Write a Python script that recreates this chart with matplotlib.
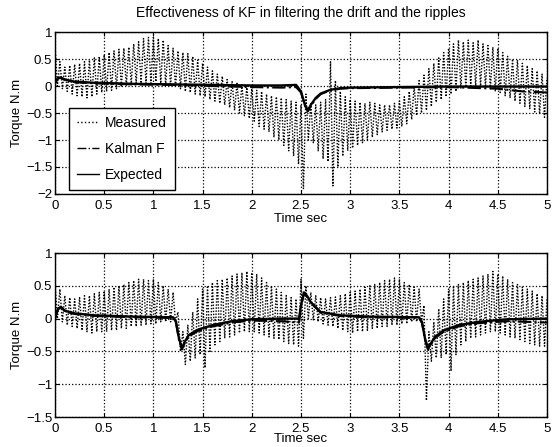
import numpy as np
import matplotlib.pyplot as plt
from matplotlib.lines import Line2D

# envelope of the measured torque (peaks / troughs), every 0.05 s
t_env = np.round(np.arange(0, 5.0001, 0.05), 2)

top_hi = [0.75, 0.45, 0.35, 0.38, 0.40, 0.42, 0.45, 0.48, 0.52, 0.55,
          0.58, 0.62, 0.65, 0.68, 0.70, 0.72, 0.78, 0.82, 0.88, 0.90,
          0.90, 0.88, 0.85, 0.75, 0.70, 0.65, 0.62, 0.60, 0.55, 0.48,
          0.42, 0.35, 0.28, 0.22, 0.18, 0.12, 0.08, 0.05, 0.02, 0.00,
          -0.05, -0.08, -0.10, -0.15, -0.18, -0.20, -0.22, -0.25, -0.28, -0.30,
          -0.35, -0.15, -0.30, -0.35, -0.30, -0.25, 0.45, 0.10, -0.10, -0.20,
          -0.25, -0.28, -0.30, -0.32, -0.30, -0.32, -0.35, -0.35, -0.35, -0.32,
          -0.28, -0.20, -0.10, 0.00, 0.10, 0.20, 0.32, 0.42, 0.52, 0.62,
          0.70, 0.78, 0.85, 0.82, 0.85, 0.80, 0.85, 0.78, 0.75, 0.72,
          0.70, 0.62, 0.55, 0.50, 0.48, 0.42, 0.38, 0.32, 0.28, 0.22,
          0.15]
top_lo = [0.00, -0.05, -0.10, -0.15, -0.18, -0.20, -0.22, -0.20, -0.15, -0.12,
          -0.10, -0.08, -0.05, -0.02, 0.00, 0.02, 0.05, 0.05, 0.05, 0.05,
          0.08, 0.05, 0.02, 0.00, -0.02, -0.05, -0.10, -0.12, -0.15, -0.18,
          -0.20, -0.25, -0.28, -0.32, -0.35, -0.40, -0.45, -0.50, -0.55, -0.60,
          -0.65, -0.75, -0.80, -0.85, -0.95, -1.00, -1.10, -1.20, -1.30, -1.45,
          -1.90, -1.00, -1.05, -1.20, -1.35, -1.40, -1.85, -1.50, -1.30, -1.20,
          -1.15, -1.10, -1.05, -1.00, -0.95, -0.90, -0.85, -0.82, -0.80, -0.78,
          -0.75, -0.70, -0.62, -0.55, -0.50, -0.45, -0.38, -0.30, -0.25, -0.20,
          -0.15, -0.10, -0.05, -0.02, 0.00, 0.00, 0.00, -0.02, -0.05, -0.10,
          -0.12, -0.18, -0.22, -0.28, -0.32, -0.38, -0.42, -0.48, -0.52, -0.58,
          -0.60]

bot_hi = [0.55, 0.45, 0.35, 0.32, 0.30, 0.32, 0.35, 0.35, 0.38, 0.40,
          0.42, 0.45, 0.48, 0.50, 0.52, 0.55, 0.58, 0.60, 0.60, 0.58,
          0.60, 0.55, 0.50, 0.45, 0.40, 0.10, -0.20, -0.10, 0.10, 0.30,
          0.45, 0.50, 0.55, 0.58, 0.60, 0.62, 0.65, 0.68, 0.70, 0.72,
          0.70, 0.68, 0.62, 0.55, 0.50, 0.45, 0.40, 0.35, 0.32, 0.30,
          0.60, 0.50, 0.40, 0.35, 0.32, 0.30, 0.32, 0.33, 0.35, 0.38,
          0.40, 0.42, 0.45, 0.48, 0.50, 0.52, 0.55, 0.58, 0.60, 0.62,
          0.60, 0.55, 0.52, 0.48, 0.45, 0.20, -0.20, -0.05, 0.15, 0.30,
          0.45, 0.50, 0.52, 0.55, 0.58, 0.60, 0.62, 0.65, 0.68, 0.72,
          0.68, 0.65, 0.60, 0.55, 0.52, 0.48, 0.45, 0.42, 0.38, 0.35,
          0.30]
bot_lo = [0.00, -0.05, -0.10, -0.12, -0.15, -0.18, -0.20, -0.22, -0.20, -0.20,
          -0.20, -0.18, -0.18, -0.15, -0.15, -0.12, -0.12, -0.10, -0.10, -0.08,
          -0.08, -0.05, -0.05, -0.05, -0.05, -0.50, -0.70, -0.65, -0.60, -0.55,
          -0.75, -0.50, -0.40, -0.35, -0.30, -0.28, -0.25, -0.22, -0.20, -0.20,
          -0.20, -0.22, -0.25, -0.28, -0.30, -0.32, -0.35, -0.38, -0.40, -0.42,
          -0.30, 0.00, -0.02, -0.05, -0.08, -0.10, -0.12, -0.15, -0.18, -0.20,
          -0.22, -0.20, -0.20, -0.18, -0.15, -0.15, -0.12, -0.12, -0.10, -0.10,
          -0.08, -0.08, -0.05, -0.05, -0.05, -1.25, -0.65, -0.60, -0.60, -0.55,
          -0.80, -0.55, -0.40, -0.35, -0.30, -0.28, -0.25, -0.22, -0.20, -0.20,
          -0.22, -0.25, -0.28, -0.30, -0.32, -0.35, -0.38, -0.40, -0.42, -0.42,
          -0.40]

# expected torque and Kalman filter estimate
top_t = [0, 0.03, 0.06, 0.1, 0.2, 0.4, 0.8, 1.2, 1.6, 2.0, 2.3, 2.45, 2.5,
         2.54, 2.57, 2.6, 2.65, 2.7, 2.8, 2.9, 3.0, 3.5, 4.0, 4.5, 4.75, 5.0]
top_exp = [0.05, 0.15, 0.16, 0.12, 0.08, 0.06, 0.04, 0.03, 0.02, 0.01, 0.01,
           0.02, -0.10, -0.35, -0.45, -0.35, -0.22, -0.14, -0.07, -0.04,
           -0.03, -0.02, -0.01, -0.01, -0.01, -0.01]
top_kf = [0.05, 0.14, 0.15, 0.11, 0.07, 0.05, 0.03, 0.02, 0.0, -0.02, -0.03,
          -0.02, -0.12, -0.36, -0.47, -0.37, -0.24, -0.15, -0.08, -0.05,
          -0.04, -0.03, -0.02, -0.05, -0.10, -0.12]

bot_t = [0, 0.03, 0.06, 0.1, 0.2, 0.4, 0.8, 1.2, 1.23, 1.26, 1.29, 1.32, 1.36,
         1.45, 1.6, 1.8, 2.0, 2.3, 2.48, 2.5, 2.53, 2.56, 2.6, 2.7, 2.9, 3.2,
         3.7, 3.73, 3.76, 3.79, 3.82, 3.86, 3.95, 4.1, 4.3, 4.6, 5.0]
bot_exp = [0.0, 0.15, 0.18, 0.12, 0.08, 0.05, 0.03, 0.02, -0.05, -0.30, -0.45,
           -0.35, -0.25, -0.17, -0.10, -0.04, -0.01, 0.0, 0.0, 0.20, 0.40,
           0.35, 0.25, 0.10, 0.05, 0.03, 0.02, -0.05, -0.30, -0.45, -0.38,
           -0.28, -0.18, -0.10, -0.05, -0.01, 0.0]
bot_kf = [0.0, 0.14, 0.17, 0.11, 0.07, 0.04, 0.02, 0.01, -0.07, -0.32, -0.47,
          -0.37, -0.27, -0.19, -0.12, -0.06, -0.03, -0.04, -0.06, 0.18, 0.38,
          0.34, 0.24, 0.09, 0.04, 0.02, 0.01, -0.07, -0.32, -0.47, -0.40,
          -0.30, -0.20, -0.12, -0.07, -0.04, -0.06]

plt.rcParams['font.family'] = ['Liberation Sans', 'DejaVu Sans']
plt.rcParams['font.size'] = 9.5


def ripple(hi, lo):
    # measured signal swings between the peaks and the troughs
    t = np.empty(2 * len(t_env))
    y = np.empty(2 * len(t_env))
    t[0::2] = t_env
    t[1::2] = t_env + 0.025
    y[0::2] = hi
    y[1::2] = lo
    return t[:-1], y[:-1]


def draw(ax, hi, lo, tl, exp, kf, ylim, yticks):
    tm, ym = ripple(hi, lo)
    ax.plot(tm, ym, color='black', linestyle=(0, (1, 1.2)), linewidth=1.0)
    ax.plot(tl, kf, color='black', linestyle='-.', linewidth=1.5)
    ax.plot(tl, exp, color='black', linestyle='-', linewidth=1.7)
    ax.set_xlim(0, 5)
    ax.set_ylim(*ylim)
    ax.set_xticks(np.arange(0, 5.01, 0.5))
    ax.set_xticklabels(['0', '0.5', '1', '1.5', '2', '2.5', '3', '3.5', '4', '4.5', '5'])
    ax.set_yticks(yticks)
    ax.set_yticklabels([('%g' % v).replace('-', '\u2212') for v in yticks])
    ax.grid(True, color='black', linestyle=':', linewidth=0.9)
    ax.tick_params(direction='in', length=3, top=True, right=True, pad=2)
    ax.tick_params(axis='x', pad=4)
    ax.set_ylabel('Torque N.m', labelpad=2)
    for s in ax.spines.values():
        s.set_linewidth(1.0)


fig = plt.figure(figsize=(5.52, 4.47), dpi=100)
ax1 = fig.add_axes([0.0996, 0.566, 0.8913, 0.3624])
ax2 = fig.add_axes([0.0996, 0.0671, 0.8913, 0.3669])

draw(ax1, top_hi, top_lo, top_t, top_exp, top_kf, (-2, 1), [-2, -1.5, -1, -0.5, 0, 0.5, 1])
draw(ax2, bot_hi, bot_lo, bot_t, bot_exp, bot_kf, (-1.5, 1), [-1.5, -1, -0.5, 0, 0.5, 1])
ax1.set_xlabel('Time sec', labelpad=1)
ax2.set_xlabel('Time sec', labelpad=-1)
ax1.set_title('Effectiveness of KF in filtering the drift and the ripples', fontsize=10, pad=11)

handles = [Line2D([], [], color='black', linestyle=':', linewidth=1.0),
           Line2D([], [], color='black', linestyle='-.', linewidth=1.0),
           Line2D([], [], color='black', linestyle='-', linewidth=1.0)]
leg = ax1.legend(handles, ['Measured', 'Kalman F', 'Expected'], loc='lower left',
                 bbox_to_anchor=(0.028, 0.025), borderaxespad=0, fancybox=False,
                 framealpha=1, edgecolor='black', handlelength=1.6, handletextpad=0.4,
                 borderpad=0.6, labelspacing=0.85, fontsize=10)
leg.get_frame().set_linewidth(1.0)

fig.savefig('out.png', dpi=100)
